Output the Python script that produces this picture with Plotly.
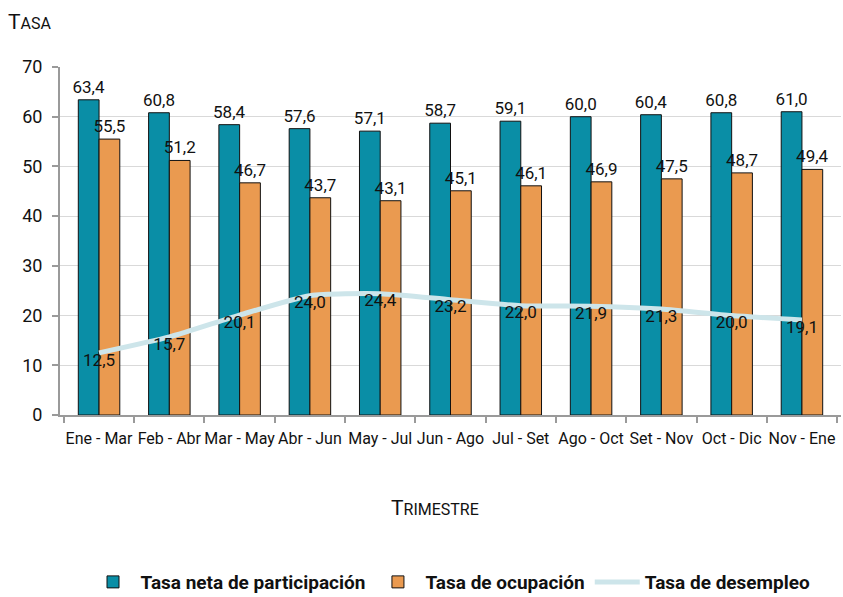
import plotly.graph_objects as go

categories = ["Ene - Mar", "Feb - Abr", "Mar - May", "Abr - Jun", "May - Jul", "Jun - Ago",
              "Jul - Set", "Ago - Oct", "Set - Nov", "Oct - Dic", "Nov - Ene"]
participacion = [63.4, 60.8, 58.4, 57.6, 57.1, 58.7, 59.1, 60.0, 60.4, 60.8, 61.0]
ocupacion = [55.5, 51.2, 46.7, 43.7, 43.1, 45.1, 46.1, 46.9, 47.5, 48.7, 49.4]
desempleo = [12.5, 15.7, 20.1, 24.0, 24.4, 23.2, 22.0, 21.9, 21.3, 20.0, 19.1]

FONT = "Roboto, sans-serif"

fig = go.Figure()
fig.add_trace(go.Bar(
    x=categories, y=participacion, name="Tasa neta de participación",
    marker=dict(color="#0a8ea6", line=dict(color="#111111", width=1)),
    texttemplate="%{y:.1f}", textposition="outside", cliponaxis=False,
    constraintext="none",
    textfont=dict(size=17, color="#111111"),
))
fig.add_trace(go.Bar(
    x=categories, y=ocupacion, name="Tasa de ocupación",
    marker=dict(color="#ea9a50", line=dict(color="#111111", width=1)),
    texttemplate="%{y:.1f}", textposition="outside", cliponaxis=False,
    constraintext="none",
    textfont=dict(size=17, color="#111111"),
))
fig.add_trace(go.Scatter(
    x=categories, y=desempleo, name="Tasa de desempleo", mode="lines+text",
    line=dict(color="#cde5ea", width=5, shape="spline", smoothing=0.6),
    texttemplate="%{y:.1f}", textposition="bottom center",
    textfont=dict(size=17, color="#111111"),
))

fig.update_layout(
    width=843, height=597,
    margin=dict(l=60, r=2, t=67, b=182, autoexpand=False),
    paper_bgcolor="white", plot_bgcolor="white",
    font=dict(family=FONT, size=16, color="#111111"),
    separators=",.",
    barmode="group", bargap=0.41, bargroupgap=0,
    legend=dict(orientation="h", x=0.5, xanchor="center", y=-0.48, yanchor="middle",
                font=dict(size=19, color="#111111", family=FONT, weight="bold"),
                traceorder="normal", itemwidth=45),
    annotations=[
        dict(text="T<span style='font-size:16px'>ASA</span>", xref="paper", yref="paper",
             x=-0.069, y=1.13, xanchor="left", yanchor="middle", showarrow=False,
             font=dict(size=21, color="#111111", family=FONT)),
        dict(text="T<span style='font-size:16px'>RIMESTRE</span>", xref="paper", yref="paper",
             x=0.48, y=-0.268, xanchor="center", yanchor="middle", showarrow=False,
             font=dict(size=21, color="#111111", family=FONT)),
    ],
)
fig.update_xaxes(
    showline=True, linecolor="#9a9a9a", linewidth=2,
    ticks="outside", tickson="boundaries", ticklen=6, tickcolor="#9a9a9a", tickwidth=2,
    tickfont=dict(size=16, color="#111111"), showgrid=False, tickangle=0,
    ticklabelstandoff=8, automargin=False,
)
fig.update_yaxes(
    range=[0, 70], dtick=10, showline=True, linecolor="#9a9a9a", linewidth=2,
    ticks="outside", ticklen=6, tickcolor="#9a9a9a", tickwidth=2,
    showgrid=True, gridcolor="#d9d9d9", gridwidth=1, zeroline=False,
    tickfont=dict(size=18, color="#111111"), ticklabelstandoff=6, automargin=False,
)

fig.write_html("out.html", post_script="document.body.style.margin='0';",
               config={"displayModeBar": False})
